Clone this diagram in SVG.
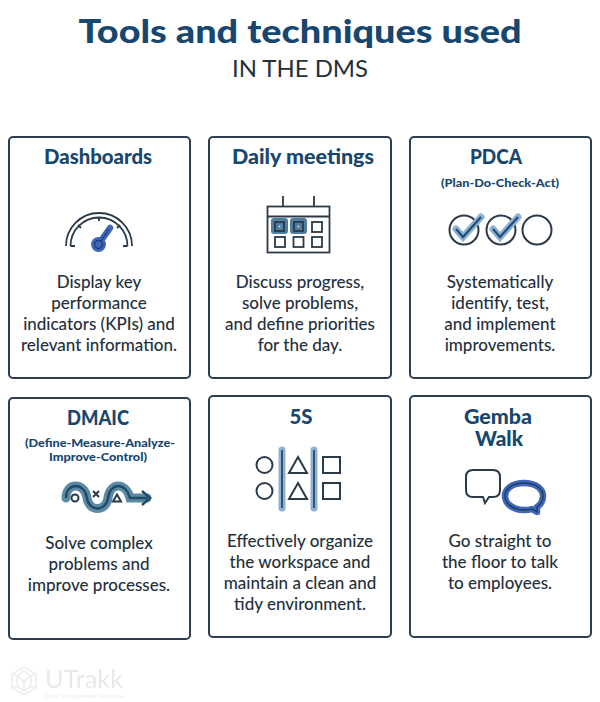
<svg xmlns="http://www.w3.org/2000/svg" width="600" height="702" viewBox="0 0 600 702">
<style>
text{font-family:"Lato","Noto Sans","Liberation Sans",sans-serif;text-anchor:middle}
.card{fill:#fff;stroke:#2c3e50;stroke-width:2}
.h{font-size:20.5px;font-weight:900;fill:#17476e}
.s{font-size:11px;font-weight:900;fill:#17476e}
.b{font-size:17px;font-weight:500;fill:#24303c}
.l{fill:none;stroke:#2b3a48;stroke-width:2}
.t{fill:none;stroke:#2b3a48;stroke-width:1.800}
.hl{fill:none;stroke:#8fb2d3;stroke-linecap:round}
</style>
<defs><filter id="soft" x="-10%" y="-10%" width="120%" height="120%"><feGaussianBlur stdDeviation="0.6"/></filter></defs>
<rect width="600" height="702" fill="#fff"/>
<g id="title">
<text x="300" y="43" font-size="33" font-weight="900" fill="#17476e" textLength="443" lengthAdjust="spacingAndGlyphs">Tools and techniques used</text>
<text x="300" y="77" font-size="23" fill="#24303c" textLength="136" lengthAdjust="spacingAndGlyphs">IN THE DMS</text>
</g>
<g id="dashboards">
<rect class="card" x="9" y="137" width="181" height="241" rx="4"/>
<text class="h" x="98" y="164" textLength="108" lengthAdjust="spacingAndGlyphs">Dashboards</text>
<path class="t" d="M66 246A33 33 0 0 1 132 246M70.500 246A28.500 28.500 0 0 1 127.500 246M70.500 246H75M123 246H127.500M99 217V221M78 225L81 228M120 225L117 228"/>
<path d="M98.500 244.500L110 228" fill="none" stroke="#3f66b8" stroke-width="6.500" stroke-linecap="round"/>
<circle cx="98.500" cy="244.500" r="7.500" fill="#3f66b8"/>
<circle cx="98.500" cy="244.500" r="4" fill="none" stroke="#1f3f78" stroke-width="1.500"/>
<path d="M101 241L109 229" stroke="#1f3f78" stroke-width="1.300"/>
<text class="b" x="99" y="288">Display key</text>
<text class="b" x="99" y="309">performance</text>
<text class="b" x="99" y="330">indicators (KPIs) and</text>
<text class="b" x="99" y="351">relevant information.</text>
</g>
<g id="daily-meetings">
<rect class="card" x="209" y="137" width="182" height="241" rx="4"/>
<text class="h" x="303" y="164" textLength="142" lengthAdjust="spacingAndGlyphs">Daily meetings</text>
<rect class="t" x="267.500" y="206.500" width="62" height="46"/>
<path class="t" d="M267.500 216.500H329.500M283 196V206M314 196V206"/>
<rect x="271" y="218" width="17" height="16" rx="3" fill="#4e7d9e"/>
<rect x="290" y="218" width="17" height="16" rx="3" fill="#4e7d9e"/>
<rect class="t" x="275" y="222" width="9" height="9" stroke="#1c3d5a"/>
<rect class="t" x="294" y="222" width="9" height="9" stroke="#1c3d5a"/>
<circle cx="279.500" cy="226.500" r="1" fill="#c9dbe6"/>
<circle cx="298.500" cy="226.500" r="1" fill="#c9dbe6"/>
<rect class="t" x="312" y="222" width="10" height="10"/>
<rect class="t" x="275" y="237" width="10" height="10"/>
<rect class="t" x="293.500" y="237" width="10" height="10"/>
<rect class="t" x="312" y="237" width="10" height="10"/>
<text class="b" x="300" y="288">Discuss progress,</text>
<text class="b" x="300" y="309">solve problems,</text>
<text class="b" x="300" y="330">and define priorities</text>
<text class="b" x="300" y="351">for the day.</text>
</g>
<g id="pdca">
<rect class="card" x="410" y="137" width="181" height="241" rx="4"/>
<text class="h" x="496" y="164" textLength="52" lengthAdjust="spacingAndGlyphs">PDCA</text>
<text class="s" x="500" y="187" textLength="118" lengthAdjust="spacingAndGlyphs">(Plan-Do-Check-Act)</text>
<circle class="l" cx="464" cy="230" r="14.500"/>
<circle class="l" cx="501" cy="230" r="14.500"/>
<circle class="l" cx="537" cy="230" r="14.500"/>
<path class="hl" stroke-width="7" d="M456 229L463 237L481 217M493 229L500 237L518 217"/>
<path fill="none" stroke="#1f4e79" stroke-width="2.200" d="M456 229L463 237L481 217M493 229L500 237L518 217"/>
<text class="b" x="500" y="288">Systematically</text>
<text class="b" x="500" y="309">identify, test,</text>
<text class="b" x="500" y="330">and implement</text>
<text class="b" x="500" y="351">improvements.</text>
</g>
<g id="dmaic">
<rect class="card" x="9" y="398" width="181" height="241" rx="4"/>
<text class="h" x="98" y="425" textLength="62" lengthAdjust="spacingAndGlyphs">DMAIC</text>
<text class="s" x="100" y="447" textLength="150" lengthAdjust="spacingAndGlyphs">(Define-Measure-Analyze-</text>
<text class="s" x="98" y="461" textLength="98" lengthAdjust="spacingAndGlyphs">Improve-Control)</text>
<path d="M66 498C66 482 85 482 87 498C89 512 106 512 108 498C110 482 126 482 130 498H147" fill="none" stroke="#5d8aa3" stroke-width="9" stroke-linecap="round"/>
<path d="M66 498C66 482 85 482 87 498C89 512 106 512 108 498C110 482 126 482 130 498H147M142 491L150 498L142 505" fill="none" stroke="#1f4a68" stroke-width="2.400"/>
<circle class="l" cx="75" cy="498" r="3.500"/>
<path class="l" d="M93 491L99 497M99 491L93 497"/>
<path class="l" d="M113 501.500L117 494.500L121 501.500Z"/>
<text class="b" x="99" y="549">Solve complex</text>
<text class="b" x="99" y="570">problems and</text>
<text class="b" x="99" y="591">improve processes.</text>
</g>
<g id="five-s">
<rect class="card" x="209" y="396" width="182" height="241" rx="4"/>
<text class="h" x="301" y="424" textLength="23" lengthAdjust="spacingAndGlyphs">5S</text>
<circle class="l" cx="264.500" cy="465" r="8"/>
<circle class="l" cx="264.500" cy="491" r="8"/>
<path class="l" d="M298 457L307 473H289ZM298 483L307 499H289Z"/>
<rect class="l" x="323" y="457" width="17" height="16"/>
<rect class="l" x="323" y="483" width="17" height="16"/>
<path class="hl" stroke-width="7" d="M282 450V508M314 450V508"/>
<path stroke="#1c3d5a" stroke-width="1.600" d="M282 450V508M314 450V508"/>
<text class="b" x="300" y="547">Effectively organize</text>
<text class="b" x="300" y="568">the workspace and</text>
<text class="b" x="300" y="589">maintain a clean and</text>
<text class="b" x="300" y="610">tidy environment.</text>
</g>
<g id="gemba-walk">
<rect class="card" x="410" y="396" width="181" height="241" rx="4"/>
<text class="h" x="498" y="424" textLength="68" lengthAdjust="spacingAndGlyphs">Gemba</text>
<text class="h" x="499" y="446" textLength="48" lengthAdjust="spacingAndGlyphs">Walk</text>
<path class="l" d="M473 470H493Q500 470 500 477V490Q500 497 493 497H489L485 503L483 497H473Q466 497 466 490V477Q466 470 473 470Z"/>
<path d="M524 483C536 483 543 489 543 496C543 502 540 505 537 507L537 512L532 509C529 510 526 510 524 510C512 510 505 503 505 496C505 489 512 483 524 483Z" fill="none" stroke="#3f66b8" stroke-width="6.500" stroke-linejoin="round"/>
<path d="M524 483C536 483 543 489 543 496C543 502 540 505 537 507L537 512L532 509C529 510 526 510 524 510C512 510 505 503 505 496C505 489 512 483 524 483Z" fill="none" stroke="#1c3d5a" stroke-width="1.300"/>
<text class="b" x="500" y="547">Go straight to</text>
<text class="b" x="500" y="568">the floor to talk</text>
<text class="b" x="500" y="589">to employees.</text>
</g>
<g id="logo" opacity="0.5" filter="url(#soft)">
<path d="M24 667L36 674V688L24 695L12 688V674ZM17 676L24 681L31 676L24 671ZM17 676V686L24 691L31 686V676M24 681V691M12 674L17 676M36 674L31 676M12 688L17 686M36 688L31 686" fill="none" stroke="#dcdcdc" stroke-width="1.500"/>
<text x="84" y="688" font-size="25" fill="#d4d4d4" textLength="78" lengthAdjust="spacingAndGlyphs">UTrakk</text>
<text x="84" y="698" font-size="5" fill="#d8d8d8" textLength="78" lengthAdjust="spacingAndGlyphs">Daily Management Software</text>
</g>
</svg>
